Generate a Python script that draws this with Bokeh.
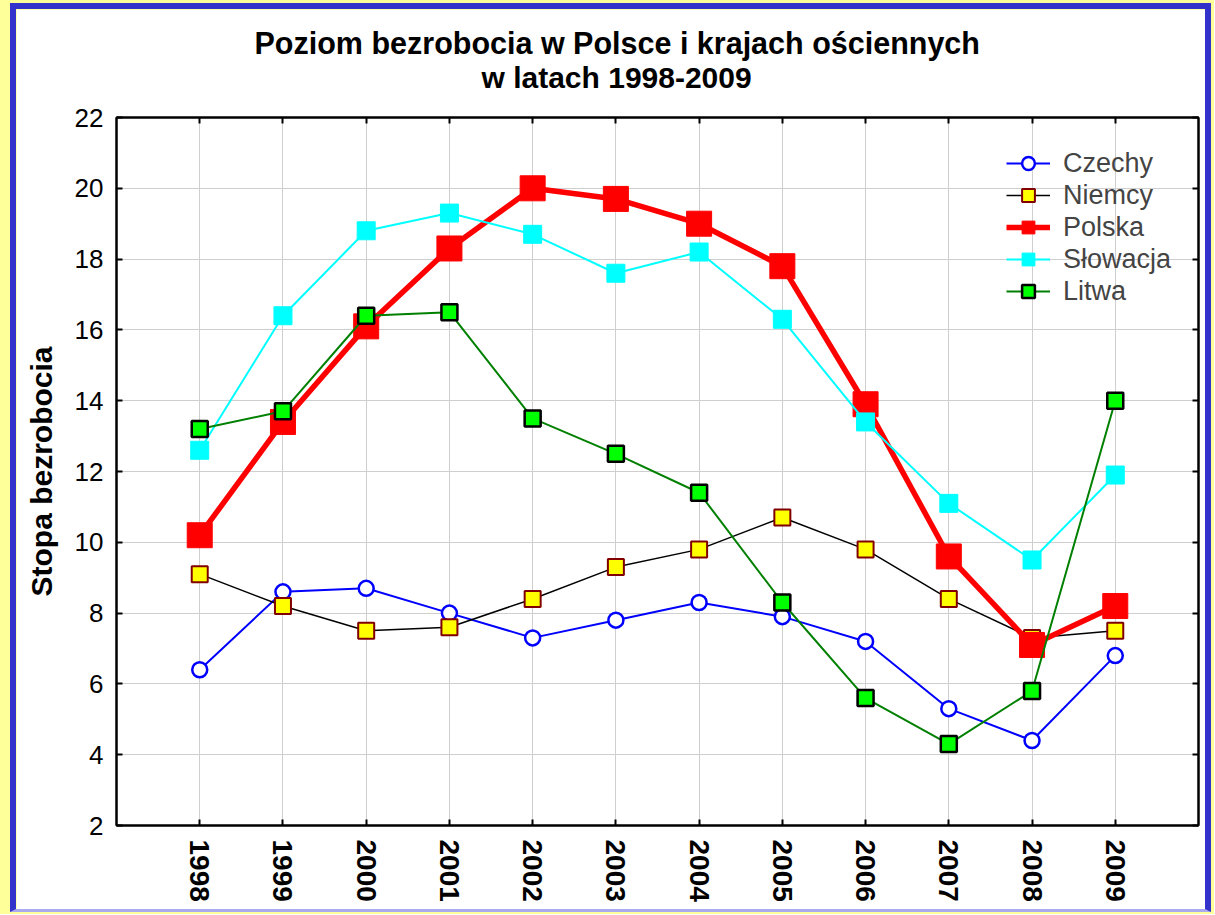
from bokeh.plotting import figure
from bokeh.models import Range1d, LinearAxis, FixedTicker, Legend, Title, CustomJSTickFormatter
from bokeh.layouts import column
from bokeh.embed import file_html
from bokeh.resources import INLINE

years = [1998, 1999, 2000, 2001, 2002, 2003, 2004, 2005, 2006, 2007, 2008, 2009]
czechy = [6.4, 8.6, 8.7, 8.0, 7.3, 7.8, 8.3, 7.9, 7.2, 5.3, 4.4, 6.8]
niemcy = [9.1, 8.2, 7.5, 7.6, 8.4, 9.3, 9.8, 10.7, 9.8, 8.4, 7.3, 7.5]
polska = [10.2, 13.4, 16.1, 18.3, 20.0, 19.7, 19.0, 17.8, 13.9, 9.6, 7.1, 8.2]
slowacja = [12.6, 16.4, 18.8, 19.3, 18.7, 17.6, 18.2, 16.3, 13.4, 11.1, 9.5, 11.9]
litwa = [13.2, 13.7, 16.4, 16.5, 13.5, 12.5, 11.4, 8.3, 5.6, 4.3, 5.8, 14.0]
y_ticks = [2, 4, 6, 8, 10, 12, 14, 16, 18, 20, 22]
title_lines = ["Poziom bezrobocia w Polsce i krajach ościennych", "w latach 1998-2009"]
y_label = "Stopa bezrobocia"

FONT = "Liberation Sans"

# element is border-box (borders clip the canvas), so borders are absorbed by min_border
p = figure(width=1201, height=909, output_backend="svg", toolbar_location=None,
           x_range=Range1d(1997, 2010), y_range=Range1d(2, 22),
           min_border_left=100, min_border_right=19, min_border_top=108, min_border_bottom=93)
p.background_fill_color = "white"
p.border_fill_color = "white"
p.outline_line_color = "black"
p.outline_line_width = 2
p.styles = {"border-left": "6px solid #3333cc", "border-top": "6px solid #3333cc",
            "border-right": "6px solid #3333cc", "border-bottom": "3px solid #aaaaee"}

xt = FixedTicker(ticks=years)
yt = FixedTicker(ticks=y_ticks)

for ax in [p.xaxis[0], p.yaxis[0]]:
    ax.axis_line_width = 2
    ax.axis_line_color = "black"
    ax.major_tick_in = 6
    ax.major_tick_out = 0
    ax.major_tick_line_width = 2
    ax.minor_tick_line_color = None
    ax.major_label_text_font = FONT
    ax.major_label_text_color = "black"

p.xaxis.ticker = xt
p.yaxis.ticker = yt
p.xaxis.major_label_orientation = "vertical"
p.xaxis.major_label_text_font_size = "28px"
p.xaxis.major_label_text_font_style = "bold"
p.xaxis.major_label_standoff = 14
p.yaxis.major_label_text_font_size = "26px"
p.yaxis.major_label_standoff = 13
p.yaxis.axis_label = y_label
p.yaxis.axis_label_text_font = FONT
p.yaxis.axis_label_text_font_size = "30px"
p.yaxis.axis_label_text_font_style = "bold"
p.yaxis.axis_label_standoff = 14
p.yaxis.axis_label_text_color = "black"

p.xgrid.ticker = xt
p.ygrid.ticker = yt
p.xgrid.grid_line_color = "#cfcfcf"
p.ygrid.grid_line_color = "#cfcfcf"

blank = CustomJSTickFormatter(code="return ''")
top_ax = LinearAxis(ticker=xt, formatter=blank, major_label_standoff=0,
                    major_label_text_font_size="2px",
                    major_tick_in=6, major_tick_out=0, major_tick_line_width=2,
                    axis_line_width=2, minor_tick_line_color=None)
right_ax = LinearAxis(ticker=yt, formatter=blank, major_label_standoff=0,
                      major_label_text_font_size="2px",
                      major_tick_in=6, major_tick_out=0, major_tick_line_width=2,
                      axis_line_width=2, minor_tick_line_color=None)
p.add_layout(top_ax, "above")
p.add_layout(right_ax, "right")

r = {}
r["Czechy"] = [
    p.line(years, czechy, line_color="#0000ff", line_width=2),
    p.scatter(years, czechy, marker="circle", size=15, fill_color="white",
              line_color="#0000ff", line_width=2.5),
]
r["Niemcy"] = [
    p.line(years, niemcy, line_color="black", line_width=1.5),
    p.scatter(years, niemcy, marker="square", size=16, fill_color="#ffff00",
              line_color="#800000", line_width=2),
]
r["Polska"] = [
    p.line(years, polska, line_color="#ff0000", line_width=5.5),
    p.scatter(years, polska, marker="square", size=25, fill_color="#ff0000",
              line_color="#ff0000", line_width=1),
]
r["Słowacja"] = [
    p.line(years, slowacja, line_color="#00ffff", line_width=2),
    p.scatter(years, slowacja, marker="square", size=18, fill_color="#00ffff",
              line_color="#00ffff", line_width=1),
]
r["Litwa"] = [
    p.line(years, litwa, line_color="#008000", line_width=2),
    p.scatter(years, litwa, marker="square", size=16, fill_color="#00ff00",
              line_color="black", line_width=2.5),
]

legend = Legend(items=[(k, v) for k, v in r.items()], location=(890, 518))
legend.padding = 0
legend.margin = 0
legend.spacing = 0
legend.glyph_width = 44
legend.glyph_height = 32
legend.label_height = 32
legend.label_standoff = 13
legend.label_text_font = FONT
legend.label_text_font_size = "27px"
legend.label_text_baseline = "middle"
legend.border_line_color = None
legend.background_fill_alpha = 0
p.add_layout(legend)

# two title lines, left-aligned with offsets so that they are centered at x~617
t2 = Title(text=title_lines[1], align="left", offset=365, standoff=48,
           text_font=FONT, text_font_size="30px", text_font_style="bold", text_color="black")
t1 = Title(text=title_lines[0], align="left", offset=138, standoff=-50,
           text_font=FONT, text_font_size="30.5px", text_font_style="bold", text_color="black")
p.add_layout(t2, "above")
p.add_layout(t1, "above")

page = column(p, width=1214, height=914,
              styles={"background-color": "#ffff99", "padding-left": "10px",
                      "padding-top": "3px", "overflow": "visible"})

open("out.html", "w").write(file_html(page, INLINE))
